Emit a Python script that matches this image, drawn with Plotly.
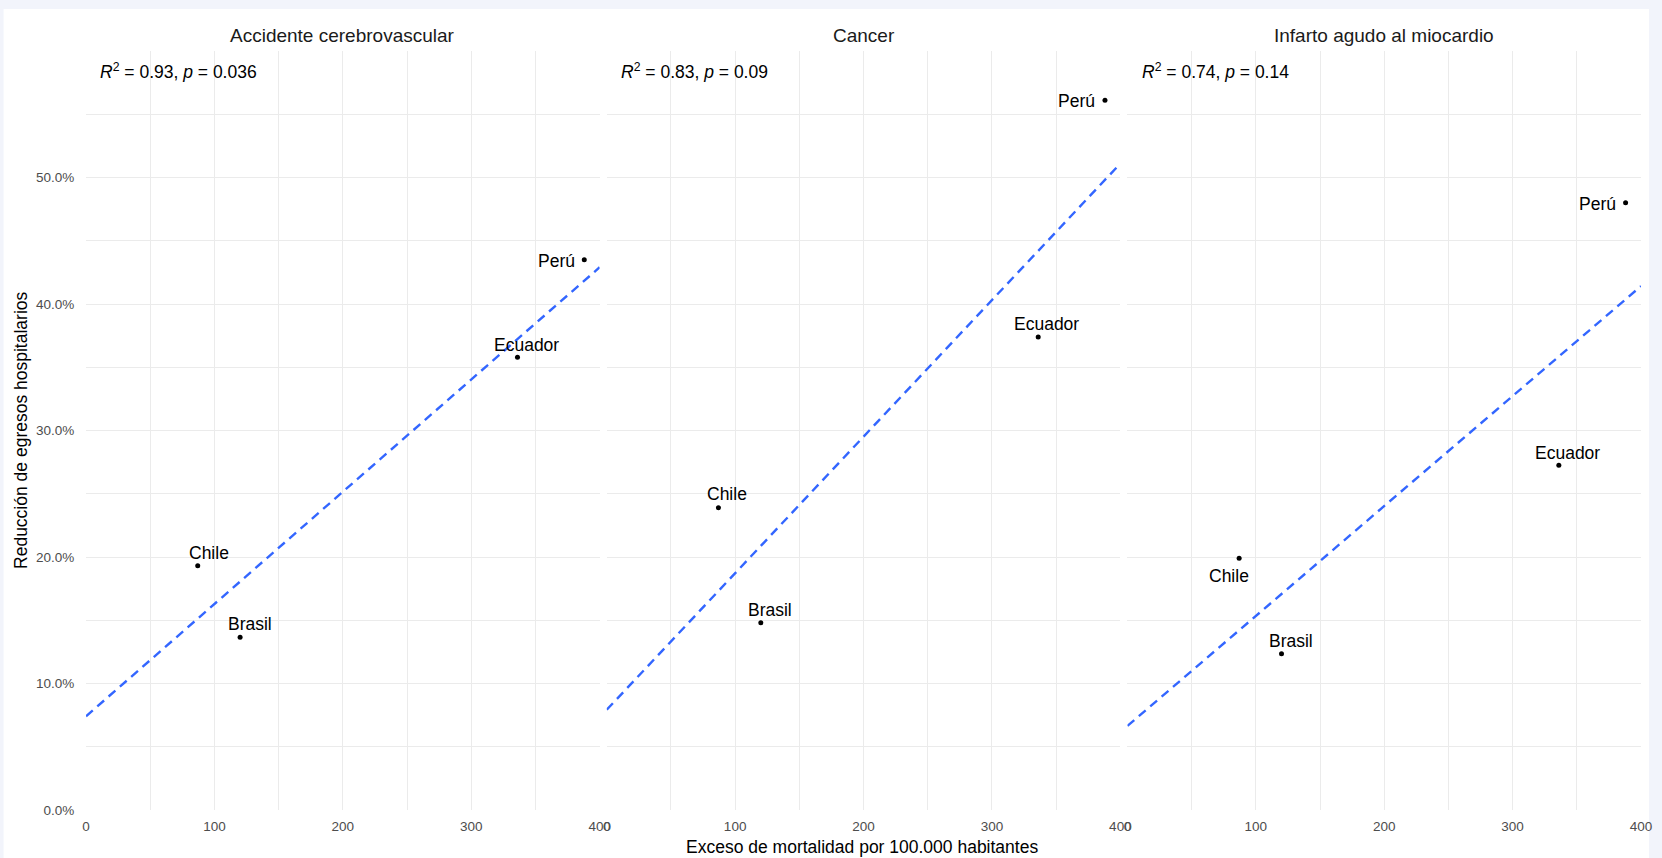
import numpy as np
import plotly.graph_objects as go

# ---------------- data ----------------
countries = ["Chile", "Brasil", "Ecuador", "Perú"]
excess_mortality = [87, 120, 336, 388]          # Exceso de mortalidad por 100.000 habitantes
panels = ["Accidente cerebrovascular", "Cancer", "Infarto agudo al miocardio"]
reduction_acv = [0.193, 0.1365, 0.358, 0.435]
reduction_cancer = [0.239, 0.148, 0.374, 0.561]
reduction_iam = [0.199, 0.1235, 0.2725, 0.480]
stats_text = ["R² = 0.93, p = 0.036", "R² = 0.83, p = 0.09", "R² = 0.74, p = 0.14"]
x_ticks = [0, 100, 200, 300, 400]
y_ticks = [0, 0.1, 0.2, 0.3, 0.4, 0.5]

series = [reduction_acv, reduction_cancer, reduction_iam]

# label offsets in pixels (xshift, yshift, xanchor) per panel / country
label_pos = [
    [(11, 13, "center"), (10, 13, "center"), (9.5, 12, "center"), (-7.4, -1.5, "right")],
    [(8.5, 13.5, "center"), (9.5, 12.7, "center"), (8.5, 12.7, "center"), (-7.5, -1, "right")],
    [(-10, -17.3, "center"), (9.3, 12.3, "center"), (8.5, 12.7, "center"), (-7.3, -1.5, "right")],
]

FONT = "Liberation Sans, Arial, sans-serif"
W, H = 1662, 858
ML, MR, MT, MB = 86, 10, 51, 48
PW = W - ML - MR
PH = H - MT - MB
panel_w = 517.3
gap = 7.1
domains = []
for i in range(3):
    x0 = i * (panel_w + gap)
    domains.append([x0 / PW, min((x0 + panel_w) / PW, 1.0)])

fig = go.Figure()
annotations = []

for i, (name, yvals) in enumerate(zip(panels, series)):
    xa = "x" if i == 0 else f"x{i+1}"
    ya = "y" if i == 0 else f"y{i+1}"
    # regression line (OLS fit over the full panel range)
    slope, intercept = np.polyfit(excess_mortality, yvals, 1)
    xs = np.array([0, 400])
    fig.add_trace(go.Scatter(
        x=xs, y=slope * xs + intercept, mode="lines",
        line=dict(color="#3366FF", width=2.4, dash="9px,6px"),
        xaxis=xa, yaxis=ya, showlegend=False, hoverinfo="skip"))
    fig.add_trace(go.Scatter(
        x=excess_mortality, y=yvals, mode="markers",
        marker=dict(color="black", size=5),
        xaxis=xa, yaxis=ya, showlegend=False, text=countries))
    for c, xv, yv, (dx, dy, anc) in zip(countries, excess_mortality, yvals, label_pos[i]):
        annotations.append(dict(
            x=xv, y=yv, xref=xa, yref=ya, text=c, showarrow=False,
            xanchor=anc, yanchor="middle", xshift=dx, yshift=dy,
            font=dict(family=FONT, size=17.5, color="black")))
    # stats text
    r2, pv = stats_text[i].split(", ")
    txt = "<i>R</i><sup>2</sup>" + r2[2:] + ", <i>p</i>" + pv[1:]
    annotations.append(dict(
        x=9.5, y=0.584, xref=xa, yref=ya, text=txt, showarrow=False,
        xanchor="left", yanchor="middle",
        font=dict(family=FONT, size=17.5, color="black")))
    # strip title
    annotations.append(dict(
        x=(domains[i][0] + domains[i][1]) / 2, y=(H - MB - 35) / PH,
        xref="paper", yref="paper", text=name, showarrow=False,
        xanchor="center", yanchor="middle",
        font=dict(family=FONT, size=19, color="#1a1a1a")))

# axis titles
annotations.append(dict(
    x=(867.5 - ML) / PW, y=(H - MB - 846.5) / PH, xref="paper", yref="paper",
    text="Exceso de mortalidad por 100.000 habitantes", showarrow=False,
    xanchor="center", yanchor="middle",
    font=dict(family=FONT, size=17.5, color="black")))
annotations.append(dict(
    x=(20 - ML) / PW, y=0.5, xref="paper", yref="paper",
    text="Reducción de egresos hospitalarios", showarrow=False, textangle=-90,
    xanchor="center", yanchor="middle",
    font=dict(family=FONT, size=17.5, color="black")))

layout = dict(
    width=W, height=H,
    margin=dict(l=ML, r=MR, t=MT, b=MB),
    paper_bgcolor="#f2f4fb", plot_bgcolor="white",
    font=dict(family=FONT),
    annotations=annotations,
    shapes=[dict(type="rect", xref="paper", yref="paper",
                 x0=(3 - ML) / PW, x1=(1660 - ML) / PW,
                 y0=(H - MB - 870) / PH, y1=(H - MB - 9) / PH,
                 fillcolor="white", line=dict(width=0), layer="below")],
)

for i in range(3):
    xk = "xaxis" if i == 0 else f"xaxis{i+1}"
    yk = "yaxis" if i == 0 else f"yaxis{i+1}"
    layout[xk] = dict(
        domain=domains[i], range=[0, 400], anchor="y" if i == 0 else f"y{i+1}",
        tickvals=x_ticks, showgrid=True, gridcolor="#ebebeb", gridwidth=1.1,
        minor=dict(dtick=50, tick0=0, showgrid=True, gridcolor="#ebebeb", gridwidth=1),
        zeroline=False, showline=False,
        ticks="outside", ticklen=4, tickcolor="rgba(0,0,0,0)",
        tickfont=dict(family=FONT, size=13.5, color="#4d4d4d"))
    layout[yk] = dict(
        domain=[0, 1], range=[0, 0.6], anchor="x" if i == 0 else f"x{i+1}",
        tickvals=y_ticks, tickformat=".1%", showticklabels=(i == 0),
        showgrid=True, gridcolor="#ebebeb", gridwidth=1.1,
        minor=dict(dtick=0.05, tick0=0, showgrid=True, gridcolor="#ebebeb", gridwidth=1),
        zeroline=False, showline=False,
        ticks="outside" if i == 0 else "", ticklen=8, tickcolor="rgba(0,0,0,0)",
        tickfont=dict(family=FONT, size=13.5, color="#4d4d4d"))

fig.update_layout(**layout)
fig.write_html("out.html")
